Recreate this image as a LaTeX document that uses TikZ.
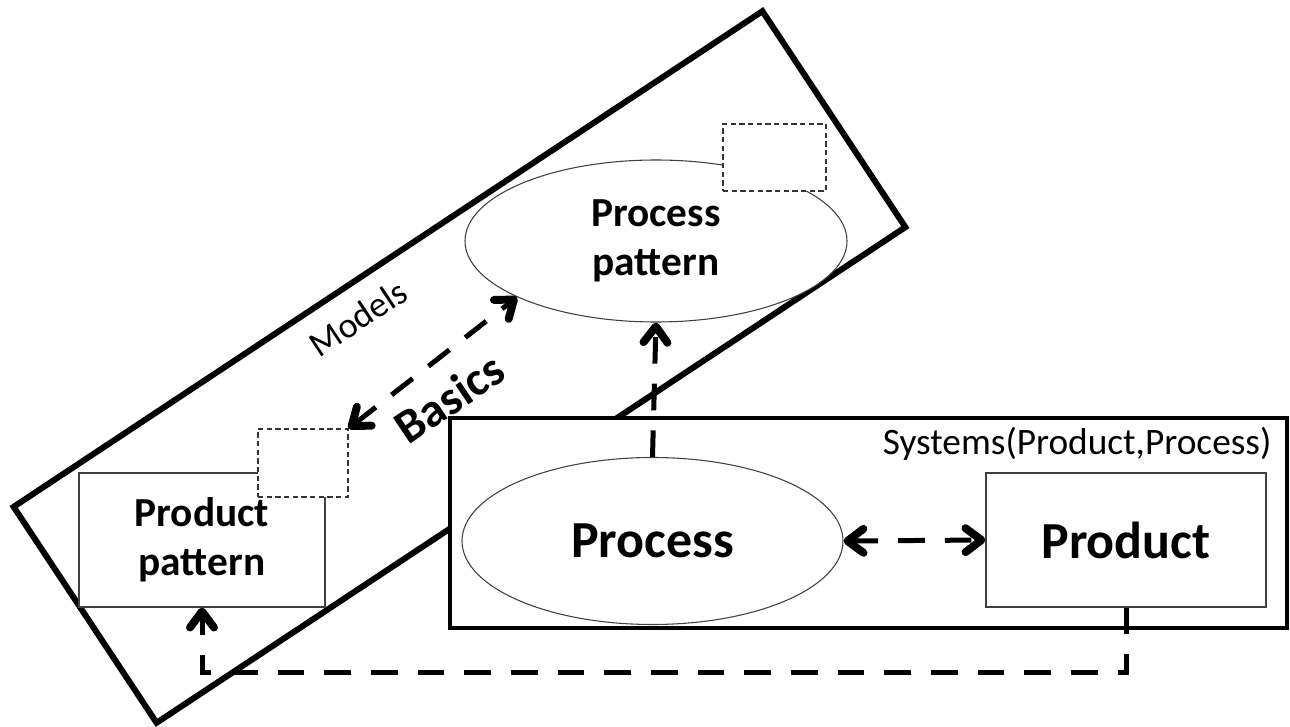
\documentclass[tikz,border=0pt]{standalone}
\usepackage{fontspec}
\setmainfont{Carlito}
\usetikzlibrary{arrows.meta,shapes.geometric}

\begin{document}
\begin{tikzpicture}[x=0.75pt,y=-0.75pt,
		boxline/.style={draw,line width=#1,fill=white,inner sep=0pt},
		thinline/.style={draw=black!75,line width=0.8pt,fill=white,inner sep=0pt},
		slot/.style={draw=black!80,line width=0.8pt,dash pattern=on 4pt off 2.5pt,fill=white,inner sep=0pt},
		barb/.tip={Straight Barb[length=12pt,width=18pt,round,line width=2.2pt 1]},
		link/.style={line width=3.75pt,dash pattern=on 20pt off 15pt},
		bigtext/.style={font=\bfseries\fontsize{39}{42}\selectfont},
		midtext/.style={font=\bfseries\fontsize{31}{37}\selectfont,align=center},
		smalltext/.style={font=\fontsize{28}{32}\selectfont}]
		\useasboundingbox ( 0, 0 ) rectangle ( 1290, 727 );
		% models frame
		\node [boxline=4.5pt,rotate=33.5,minimum width=673.5pt,minimum height=194.25pt] (models) at ( 459.5, 367 ) {};
		\node [font=\fontsize{27}{30}\selectfont,rotate=33.5] (modelslabel) at ( 358, 318 ) {Models};
		% systems frame
		\node [boxline=3pt,minimum width=627.75pt,minimum height=157.5pt] (systems) at ( 868.5, 523 ) {};
		\node [smalltext,anchor=base east] (syslabel) at ( 1276, 455 ) {Systems(Product,Process)};
		% shapes
		\node [thinline,ellipse,minimum width=285.75pt,minimum height=125.25pt,bigtext] (process) at ( 652.5, 541 ) {Process};
		\node [thinline,minimum width=210pt,minimum height=100.5pt,bigtext] (product) at ( 1126, 540 ) {Product};
		\node [thinline,minimum width=184.5pt,minimum height=100.5pt,midtext] (prodpat) at ( 202, 540 ) {Product\\pattern};
		\node [thinline,ellipse,minimum width=286.5pt,minimum height=121.5pt,midtext] (procpat) at ( 656, 241 ) {Process\\pattern};
		\node [slot,minimum width=77.25pt,minimum height=50.25pt] (procslot) at ( 774.5, 157.5 ) {};
		\node [slot,minimum width=67.5pt,minimum height=51pt] (prodslot) at ( 303, 463 ) {};
		% connectors
		\draw [link,barb-barb] (prodslot.north east) -- (procpat.202.7);
		\node [font=\bfseries\fontsize{36}{40}\selectfont,rotate=34] (basics) at ( 449, 398 ) {Basics};
		\draw [link,-barb] (process.north) -- (procpat.south);
		\draw [link,barb-barb] (process.east) -- (product.west);
		\draw [link,-barb] (product.south) -- ++( 0, 65 ) -| (prodpat.south);
	\end{tikzpicture}
\end{document}
